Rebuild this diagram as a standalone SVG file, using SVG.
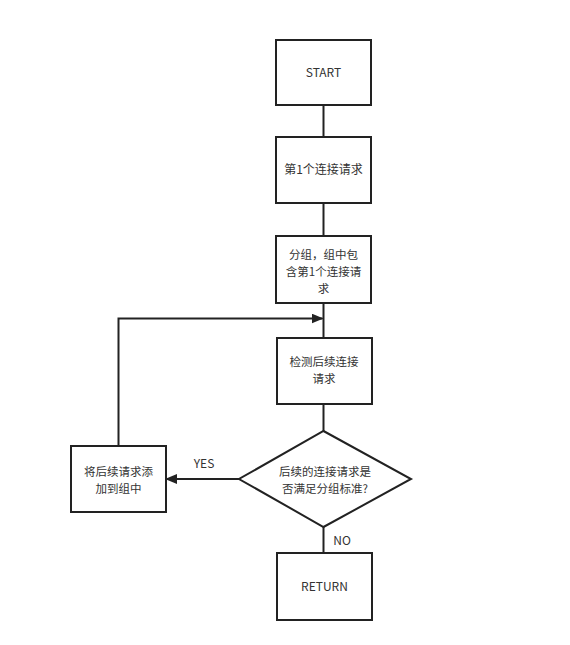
<svg xmlns="http://www.w3.org/2000/svg" width="570" height="645" viewBox="0 0 570 645">
<defs>
<style>
.box{fill:#fff;stroke:#222;stroke-width:2}
.ln{fill:none;stroke:#222;stroke-width:2}
text{font-family:"Microsoft YaHei","Noto Sans CJK SC","DejaVu Sans",sans-serif;font-size:12px;fill:#333;text-anchor:middle}
.s{font-size:11.5px}
</style>
<marker id="ah" markerWidth="12" markerHeight="10" refX="11" refY="5" orient="auto" markerUnits="userSpaceOnUse">
<path d="M0,0 L12,5 L0,10 Z" fill="#222"/>
</marker>
</defs>
<rect width="570" height="645" fill="#fff"/>
<g id="connectors">
<path class="ln" d="M323.5,105 V137"/>
<path class="ln" d="M323.5,203 V236"/>
<path class="ln" d="M323.5,303 V338"/>
<path class="ln" d="M323.5,404 V431"/>
<path class="ln" d="M323.5,527 V553"/>
<path class="ln" d="M239,479 H166" marker-end="url(#ah)"/>
<path class="ln" d="M118.5,446 V318.5 H322.5" marker-end="url(#ah)"/>
<text x="204" y="468">YES</text>
<text x="342" y="545">NO</text>
</g>
<g id="start"><rect class="box" x="276" y="40" width="95" height="65"/><text x="323.5" y="77">START</text></g>
<g id="first"><rect class="box" x="276" y="137" width="95" height="66"/><text x="323.5" y="174">第1个连接请求</text></g>
<g id="group"><rect class="box" x="276" y="236" width="95" height="67"/><text class="s" x="323.5" y="259">分组，组中包</text><text class="s" x="323.5" y="276">含第1个连接请</text><text class="s" x="323.5" y="293">求</text></g>
<g id="detect"><rect class="box" x="277" y="338" width="95" height="66"/><text class="s" x="324" y="366">检测后续连接</text><text class="s" x="324" y="383">请求</text></g>
<g id="decision"><path class="box" d="M323.5,431 L411,479 L323.5,527 L239,479 Z"/><text class="s" x="325" y="476">后续的连接请求是</text><text class="s" x="325" y="493">否满足分组标准?</text></g>
<g id="add"><rect class="box" x="71" y="446" width="95" height="66"/><text class="s" x="118.5" y="476">将后续请求添</text><text class="s" x="118.5" y="493">加到组中</text></g>
<g id="return"><rect class="box" x="277" y="553" width="95" height="67"/><text x="324.5" y="591">RETURN</text></g>
</svg>
